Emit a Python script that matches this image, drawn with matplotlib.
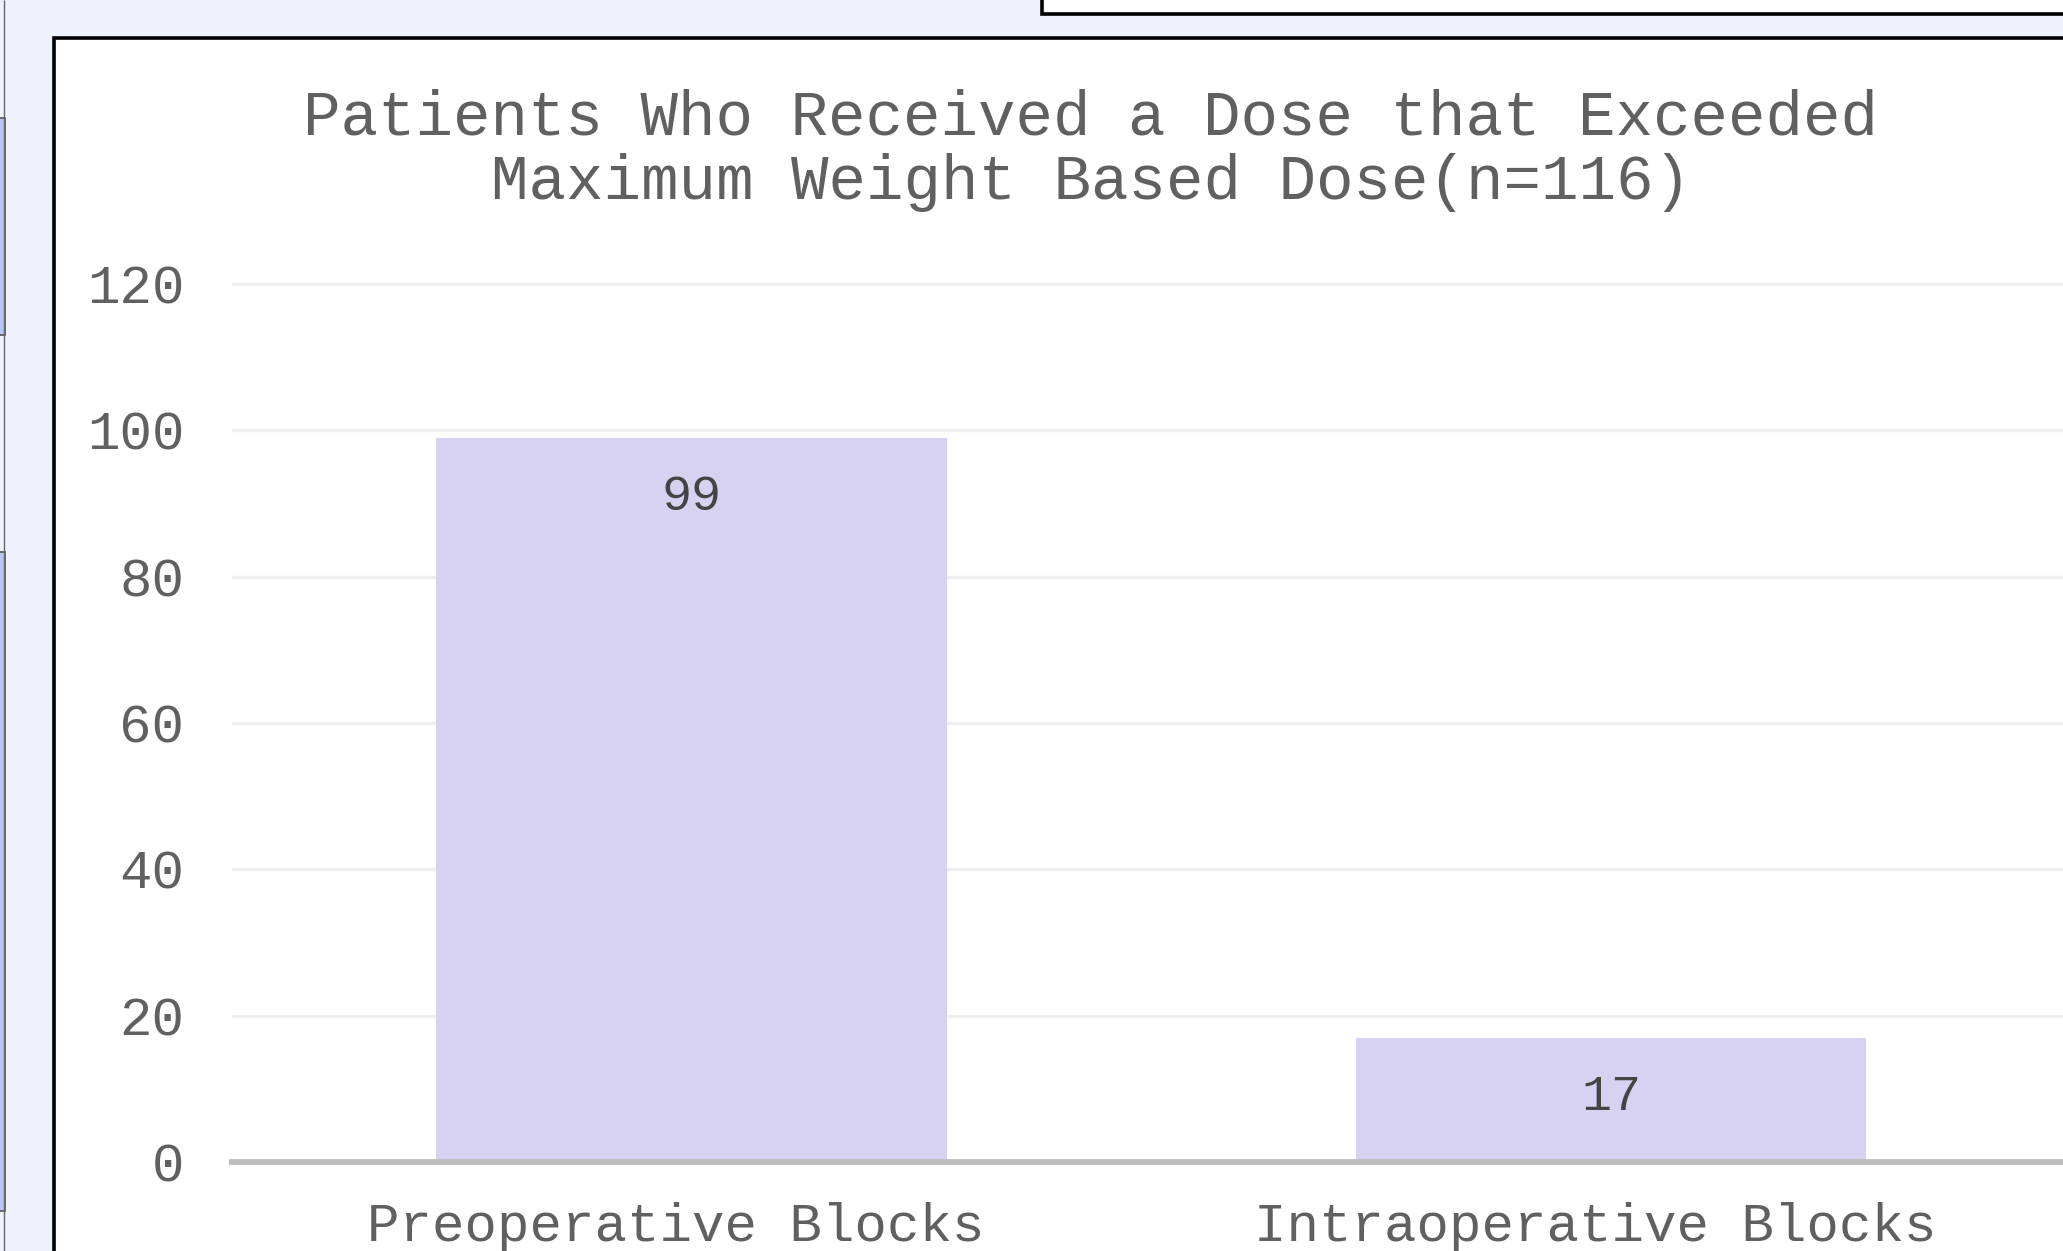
import matplotlib
matplotlib.use("Agg")
import matplotlib.pyplot as plt
from matplotlib.patches import Rectangle
from matplotlib.transforms import ScaledTranslation

categories = ["Preoperative Blocks", "Intraoperative Blocks"]
values = [99, 17]
yticks = [0, 20, 40, 60, 80, 100, 120]
title = "Patients Who Received a Dose that Exceeded\nMaximum Weight Based Dose(n=116)"

W, H = 2063, 1251
plt.rcParams['font.family'] = ['Liberation Mono', 'DejaVu Sans Mono']

fig = plt.figure(figsize=(W / 100, H / 100), dpi=100)
fig.patch.set_facecolor("#eef2fd")

# bits of the page around the chart (table cells on the left, box at top right)
for y0, y1, col in [(118, 335, "#b9c6f3"), (552, 1211, "#b9c6f3")]:
    fig.add_artist(Rectangle((-0.01, 1 - y1 / H), 5 / W + 0.01, (y1 - y0) / H,
                             transform=fig.transFigure, facecolor=col,
                             edgecolor="#555555", lw=1.2, zorder=-2))
fig.add_artist(Rectangle((4 / W, 0), 0, 1, transform=fig.transFigure,
                         edgecolor="#666666", lw=1.0, fill=False, zorder=-2))
fig.add_artist(Rectangle((1042 / W, 1 - 14 / H), 0.6, 0.1,
                         transform=fig.transFigure, facecolor="white",
                         edgecolor="black", lw=2.6, zorder=-2))
# the chart card
fig.add_artist(Rectangle((53.5 / W, -0.1), 1.2, 1 - 38 / H + 0.1,
                         transform=fig.transFigure, facecolor="white",
                         edgecolor="black", lw=2.6, zorder=-1))

left, right = 231.6, 2071
top, bottom = 1162 - 121 * 7.3167, 1162
ax = fig.add_axes([left / W, 1 - bottom / H, (right - left) / W, (bottom - top) / H])
ax.set_facecolor("none")
ax.set_zorder(5)

x = range(len(categories))
ax.bar(x, values, width=0.555, color="#d8d2f2", zorder=2)
ax.set_xlim(-0.5, 1.5)
ax.set_ylim(0, 121)

for i, v in zip(x, values):
    ax.annotate(str(v), (i, v), xytext=(0, -43), textcoords="offset points",
                ha="center", va="center", fontsize=36, color="#444444", zorder=3)

ax.set_yticks(yticks)
ax.set_xticks(list(x))
ax.set_xticklabels(categories)
ax.tick_params(axis="y", length=0, pad=34, labelsize=39, labelcolor="#606060")
ax.tick_params(axis="x", length=0, pad=29, labelsize=39, labelcolor="#606060")
shift = ScaledTranslation(-0.16, 0, fig.dpi_scale_trans)
for lab in ax.get_xticklabels():
    lab.set_transform(lab.get_transform() + shift)
for s in ax.spines.values():
    s.set_visible(False)
ax.yaxis.grid(True, color="#efefef", lw=2.4, zorder=0)
ax.set_axisbelow(True)
ax.axhline(0, color="#bdbdbd", lw=4.2, clip_on=False, zorder=3)

fig.text(1091 / W, 1 - 150 / H, title, ha="center", va="center",
         multialignment="center", fontsize=45, color="#606060", linespacing=1.12,
         zorder=6)

fig.savefig("out.png", dpi=100, facecolor=fig.get_facecolor())
